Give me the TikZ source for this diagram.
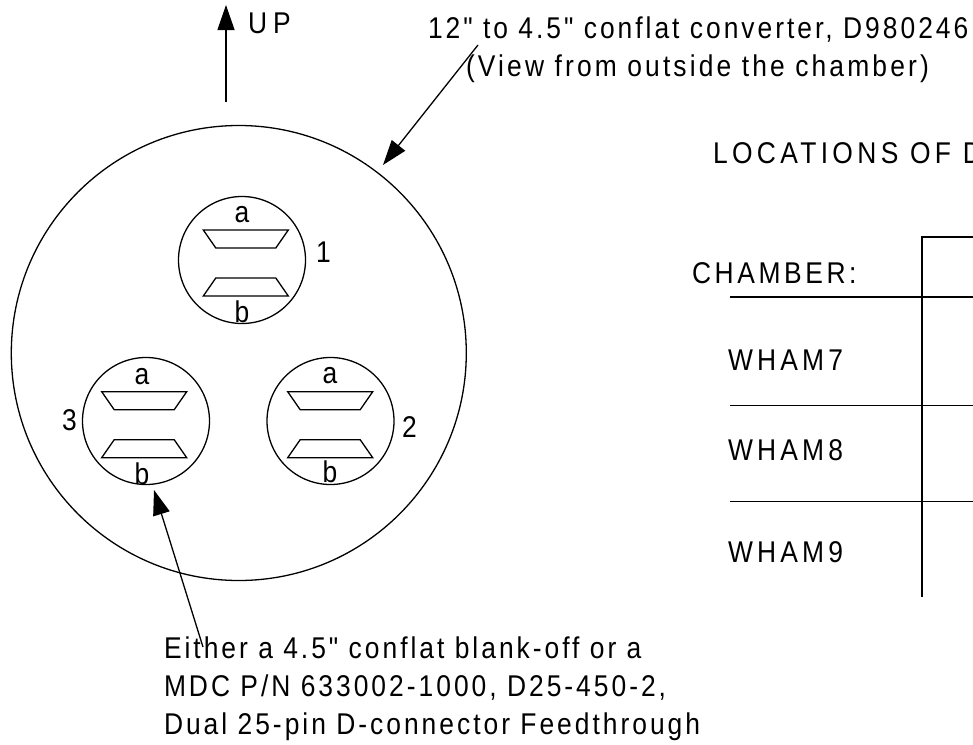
\documentclass[tikz,border=0pt]{standalone}
\usepackage{fontspec}
\setmainfont{Liberation Sans}[FakeStretch=0.88,Ligatures=TeXOff]
\usetikzlibrary{arrows.meta}
\tikzset{
  x=1pt,y=-1pt,
  wire/.style={draw=black,line width=1.3pt},
  pointer/.style={wire,-{Triangle[length=25pt,width=17pt]}},
  lab/.style={inner sep=0pt,outer sep=0pt,anchor=base west,font=\fontsize{30}{30}\selectfont},
  ls/.style={font=\fontsize{30}{30}\selectfont\addfontfeature{LetterSpace=#1}},
  labc/.style={lab,anchor=base},
  port/.style={wire,circle,minimum size=127pt,inner sep=0pt},
  pics/feed/.style={code={
    \draw[wire,line join=miter] (-42.5,-30) -- (42.5,-30) -- (30,-12) -- (-30,-12) -- cycle;
    \draw[wire,line join=miter] (-30,18) -- (30,18) -- (42.5,36) -- (-42.5,36) -- cycle;
  }}
}
\begin{document}
\begin{tikzpicture}
\useasboundingbox (0,0) rectangle (973,744);
\clip (0,0) rectangle (973,744);
% flange
\node[wire,circle,minimum size=455pt,inner sep=0pt] (flange) at (238.8,353) {};
\node[port] (p1) at (242,260) {};
\node[port] (p3) at (146,421) {};
\node[port] (p2) at (330.5,421) {};
\pic at (245.8,260) {feed};
\pic at (144.2,421.7) {feed};
\pic at (330.2,421.7) {feed};
\node[labc] (a1) at (242,222) {a};
\node[labc] (b1) at (242,322) {b};
\node[labc] (a3) at (142,384) {a};
\node[labc] (b3) at (142,484) {b};
\node[labc] (a2) at (330,383) {a};
\node[labc] (b2) at (330,482) {b};
\node[lab] (n1) at (316,262) {1};
\node[lab] (n3) at (62,430) {3};
\node[lab] (n2) at (402,437) {2};
% arrows
\coordinate (upS) at (226,102);
\coordinate (upE) at (226,5);
\draw[pointer] (upS) -- (upE);
\node[lab,ls=20] (up) at (248,33) {UP};
\coordinate (cS) at (478,45);
\coordinate (cE) at (383,165);
\draw[pointer] (cS) -- (cE);
\coordinate (bS) at (203,647);
\coordinate (bE) at (154,490);
\draw[pointer] (bS) -- (bE);
% captions
\node[lab,ls=10] (t1) at (428,38) {12" to 4.5" conflat converter, D980246};
\node[lab,ls=10.5] (t2) at (466,76) {(View from outside the chamber)};
\node[lab,ls=10] (t3) at (164,658) {Either a 4.5" conflat blank-off or a};
\node[lab,ls=10] (t4) at (164,696) {MDC P/N 633002-1000, D25-450-2,};
\node[lab,ls=10] (t5) at (164,734) {Dual 25-pin D-connector Feedthrough};
% table
\node[lab,ls=14.5] (title) at (713,163) {LOCATIONS OF D};
\node[lab,ls=12] (chamber) at (692,283) {CHAMBER:};
\node[lab,ls=14] (w7) at (728,370) {WHAM7};
\node[lab,ls=14] (w8) at (728,460) {WHAM8};
\node[lab,ls=14] (w9) at (728,562) {WHAM9};
\coordinate (vT) at (922,237);
\coordinate (vB) at (922,597);
\coordinate (vR) at (973,237);
\draw[wire] (vR) -- (vT) -- (vB);
\foreach \y in {297,405.7,501.3}{
  \coordinate (hL) at (730,\y);
  \coordinate (hR) at (973,\y);
  \draw[wire] (hL) -- (hR);
}
\end{tikzpicture}
\end{document}
